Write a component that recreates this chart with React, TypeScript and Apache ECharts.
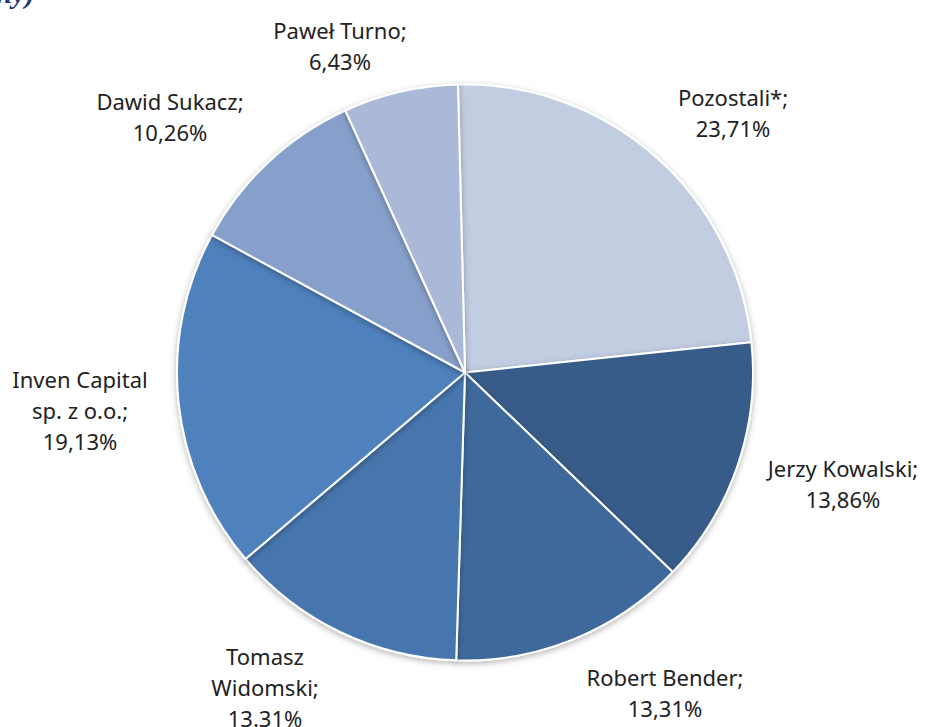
import React, { useEffect, useRef } from "react";
import * as echarts from "echarts";

const NAMES = [
  "Pozostali*",
  "Jerzy Kowalski",
  "Robert Bender",
  "Tomasz\nWidomski",
  "Inven Capital\nsp. z o.o.",
  "Dawid Sukacz",
  "Paweł Turno",
];
const VALUES = [23.71, 13.86, 13.31, 13.31, 19.13, 10.26, 6.43];
const PCT_TEXT = ["23,71%", "13,86%", "13,31%", "13.31%", "19,13%", "10,26%", "6,43%"];
const COLORS = ["#c3cde2", "#375c89", "#3f699b", "#4775ad", "#4f81bd", "#87a0cb", "#aab9d7"];
// label centre positions (px) in the 925x727 canvas
const LABEL_POS = [
  [733, 112],
  [843, 483],
  [665, 692],
  [265, 687],
  [80, 410],
  [170, 116],
  [340, 45],
];

export default function App() {
  const ref = useRef<HTMLDivElement>(null);
  useEffect(() => {
    const chart = echarts.init(ref.current!, null, { renderer: "svg" });
    chart.setOption({
      animation: false,
      backgroundColor: "#ffffff",
      graphic: [
        {
          type: "text",
          left: -4,
          top: -22,
          style: {
            text: "ny)",
            font: "italic bold 29px 'Liberation Serif'",
            fill: "#1f3a6e",
          },
        },
      ],
      series: [
        {
          type: "pie",
          center: [465, 372.5],
          radius: 288,
          startAngle: 91.4,
          clockwise: true,
          avoidLabelOverlap: false,
          itemStyle: {
            borderColor: "#ffffff",
            borderWidth: 2,
            shadowBlur: 6,
            shadowColor: "rgba(0,0,0,0.3)",
            shadowOffsetY: 2,
          },
          label: {
            show: true,
            position: "outside",
            color: "#222222",
            fontFamily: "'Noto Sans'",
            fontSize: 22,
            lineHeight: 31,
            align: "center",
            formatter: (p: any) => p.name + ";\n" + PCT_TEXT[p.dataIndex],
          },
          labelLine: { show: false },
          labelLayout: (p: any) => ({
            x: LABEL_POS[p.dataIndex][0],
            y: LABEL_POS[p.dataIndex][1],
            align: "center",
            verticalAlign: "middle",
          }),
          emphasis: { disabled: true },
          data: NAMES.map((n, i) => ({
            name: n,
            value: VALUES[i],
            itemStyle: { color: COLORS[i] },
          })),
        },
      ],
    });
    return () => chart.dispose();
  }, []);
  return (
    <div
      ref={ref}
      style={{ position: "fixed", left: 0, top: 0, width: 925, height: 727 }}
    />
  );
}
